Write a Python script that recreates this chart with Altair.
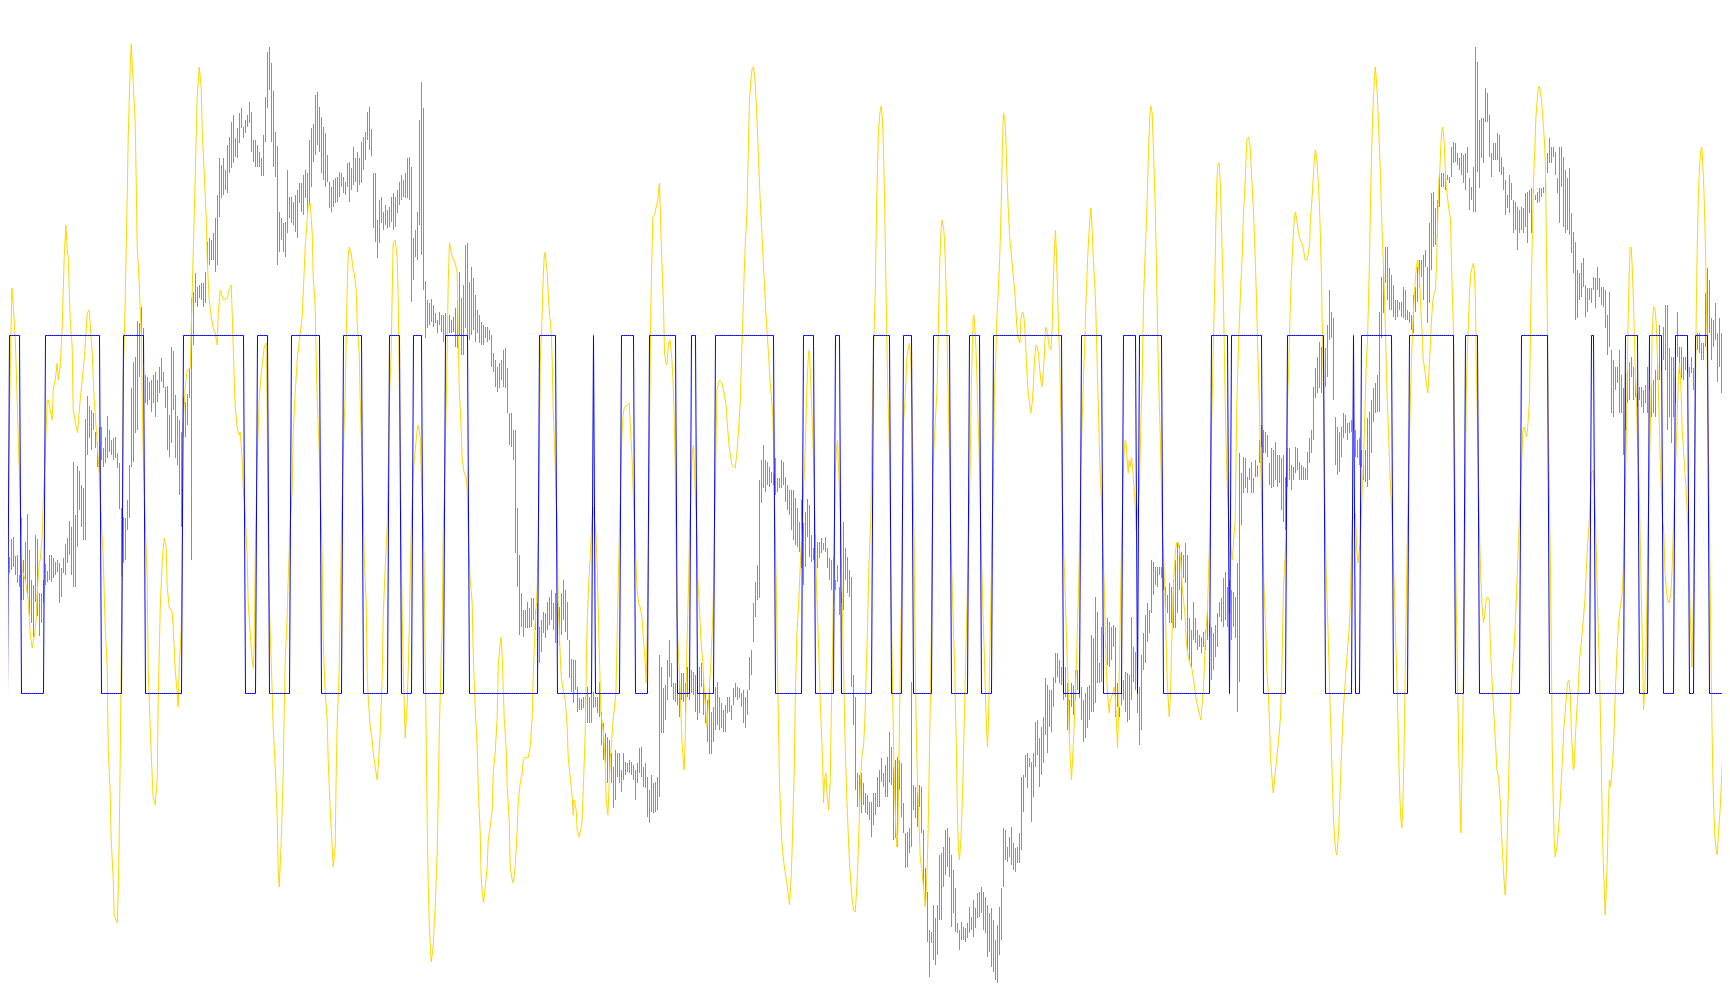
import altair as alt
import pandas as pd

# ---------------- data ----------------
# green price bars: high / low level of every bar (bar index 0..864)
green_high = [
447,428,448,444,443,461,463,444,445,425,482,440,458,486,450,420,415,465,461,407,
407,420,436,429,445,445,442,438,440,437,432,442,456,462,479,473,538,485,534,529,
515,512,581,604,594,590,587,568,558,573,573,552,563,584,570,560,562,563,547,537,
492,483,482,500,535,612,638,643,679,677,693,672,625,623,618,620,625,628,620,633,
642,628,613,614,585,653,649,605,584,580,568,603,598,606,632,702,708,727,713,715,
717,717,728,758,762,760,767,782,805,842,835,842,830,855,863,878,885,862,872,887,
892,873,880,885,898,888,860,860,855,848,842,865,903,948,953,937,909,868,854,788,
782,777,778,830,803,803,798,805,810,817,817,825,830,827,860,872,876,905,908,893,
883,873,867,845,818,813,820,822,823,828,827,823,818,837,838,832,853,842,848,842,
858,863,868,888,893,871,827,827,780,800,803,788,795,790,793,803,807,803,810,818,
825,820,827,842,843,833,762,770,788,880,918,892,719,700,697,701,695,687,680,688,
685,685,687,680,685,680,683,692,700,728,702,715,755,757,718,733,722,705,690,685,
678,675,673,673,670,665,647,640,633,637,640,650,652,632,587,587,570,570,492,445,
407,390,390,398,392,402,402,390,397,373,380,388,387,398,403,410,397,407,397,393,
407,420,410,398,360,341,340,340,313,302,301,303,303,313,303,308,308,303,303,318,
288,277,267,263,260,247,233,250,247,247,230,247,238,237,240,238,235,230,237,252,
253,233,237,223,210,225,217,218,223,345,333,312,315,340,360,337,317,317,330,320,
327,327,317,333,317,330,328,325,313,333,337,327,307,300,317,288,293,313,318,303,
297,290,295,303,303,295,312,317,313,312,307,310,303,310,343,350,397,418,435,520,
540,555,540,538,533,528,527,542,522,522,540,538,523,515,510,510,510,502,492,478,
500,477,488,501,495,465,452,465,458,458,462,457,463,452,442,440,443,420,435,413,
408,478,452,443,430,423,325,303,227,225,227,217,207,205,198,198,207,207,223,230,
242,227,235,243,268,253,233,240,243,240,237,197,167,168,172,318,215,213,207,215,
213,170,132,108,70,68,95,82,95,145,147,153,170,172,163,145,130,112,77,70,
78,73,72,77,93,83,100,92,107,108,113,108,103,95,87,92,80,60,75,93,
112,172,170,153,163,173,157,152,153,167,223,225,245,247,242,238,247,278,280,262,
273,283,322,315,310,310,323,347,347,340,333,310,333,317,300,317,315,330,330,318,
313,300,307,313,315,365,362,403,388,337,373,365,368,382,378,373,375,373,317,293,
317,320,328,327,325,383,353,348,315,313,345,367,385,397,390,440,438,433,433,433,
433,450,413,405,417,413,420,440,458,455,448,445,457,445,382,370,398,382,370,365,
363,368,370,390,377,373,367,375,387,398,402,422,428,413,420,410,408,403,437,547,
527,543,542,523,532,538,522,540,535,560,575,570,568,565,537,552,550,558,545,545,
542,545,523,552,552,535,533,553,552,538,535,533,532,548,562,570,613,632,643,658,
653,640,652,675,710,688,682,583,573,568,573,587,585,577,578,580,580,570,560,562,
550,540,550,582,588,600,612,617,625,688,723,733,753,753,732,725,715,700,700,698,
698,713,710,690,688,685,705,713,733,740,740,745,750,733,777,807,808,792,800,827,
827,827,827,825,823,853,858,857,847,842,847,845,847,853,822,813,833,953,938,880,
882,882,912,907,885,847,857,857,867,865,843,833,820,805,825,817,800,798,793,790,
793,792,807,808,810,812,812,805,808,812,812,813,820,847,862,853,853,848,822,853,
853,843,830,822,832,787,768,758,730,727,737,742,715,712,712,712,723,722,733,722,
713,713,710,685,708,650,640,633,633,650,625,612,627,630,638,643,633,630,607,613,
613,610,615,633,660,617,620,630,643,675,663,673,695,695,652,643,643,623,688,653,
653,643,643,640,633,643,632,657,667,667,657,657,707,732,720,682,680,697,667,682,
667,627,610,607,605]

green_low = [
422,410,404,425,427,430,433,425,417,413,400,400,420,403,385,377,363,398,384,364,
377,397,415,418,420,418,422,425,428,397,403,427,425,437,445,425,413,413,453,490,
473,460,460,545,562,550,570,552,533,527,540,533,537,542,548,545,540,542,532,491,
423,437,440,470,482,533,538,567,570,623,667,637,597,595,600,588,597,583,598,607,
618,612,592,550,543,557,590,542,535,505,473,563,563,575,602,440,655,697,693,702,
700,693,697,732,735,740,740,728,735,783,802,805,810,807,827,832,837,843,842,857,
872,862,867,873,877,848,838,833,833,833,824,824,858,892,910,858,833,823,735,748,
760,748,743,767,782,777,775,768,762,797,788,785,802,787,795,813,838,845,855,848,
827,820,813,818,792,788,793,797,798,803,813,807,805,813,798,810,815,818,808,815,
817,830,840,860,850,844,772,758,742,757,777,770,775,772,773,778,770,773,787,795,
800,803,802,802,800,698,720,743,740,775,745,710,662,672,675,678,673,677,667,675,
668,658,660,667,667,667,668,653,652,665,645,645,672,660,660,665,670,658,667,657,
655,655,662,658,660,633,628,613,608,612,620,613,612,587,555,553,540,447,413,365,
373,363,372,372,372,373,380,370,332,337,348,367,362,370,375,380,370,357,357,355,
365,380,368,360,322,308,297,310,288,290,290,292,277,277,277,277,292,293,287,283,
255,240,237,217,223,217,192,200,223,217,208,220,225,228,227,225,220,200,217,227,
223,213,212,183,177,188,187,188,190,203,267,267,280,300,323,313,300,298,295,283,
300,298,287,303,300,307,305,288,280,287,313,285,277,258,246,246,258,270,275,270,
272,268,268,287,288,280,295,303,300,302,293,277,272,285,310,325,358,383,400,402,
497,512,508,515,513,517,515,505,508,512,512,515,498,490,485,470,460,455,453,448,
432,415,433,463,443,438,440,450,432,442,447,450,448,432,420,410,397,410,418,385,
397,390,420,407,403,313,275,210,193,188,187,195,187,185,180,163,175,185,193,193,
218,213,203,203,217,215,160,162,153,210,183,167,132,133,147,153,190,182,173,193,
167,115,95,58,23,57,40,35,45,80,80,113,125,133,123,73,87,68,67,50,
60,60,58,62,67,70,63,72,82,83,87,70,67,43,48,33,28,20,17,45,
60,113,140,138,143,135,130,128,137,137,150,188,223,212,233,178,203,233,245,213,
225,237,265,247,273,268,293,317,323,317,315,300,303,270,267,293,285,300,310,302,
280,258,262,272,280,288,288,297,317,317,318,330,352,335,333,340,353,283,293,283,
295,300,288,278,280,300,318,310,287,255,270,330,337,358,367,387,405,415,413,425,
422,410,393,387,377,377,372,372,387,410,380,422,417,350,340,332,360,357,350,353,
347,353,350,360,363,320,330,343,353,383,378,373,380,373,387,360,373,362,288,318,
475,507,512,507,520,507,507,523,523,537,553,547,547,543,515,512,513,520,513,517,
490,478,470,513,520,510,520,527,530,520,520,520,520,520,537,547,560,602,607,612,
607,600,613,623,660,662,600,535,525,528,543,562,567,560,567,568,570,543,542,535,
533,520,518,513,520,547,578,587,588,588,662,687,717,700,690,690,683,680,683,690,
683,682,680,680,677,670,667,688,698,713,723,700,733,677,697,730,753,755,763,793,
813,813,810,820,817,823,837,838,835,830,825,817,810,827,790,800,788,788,828,812,
842,837,878,878,843,823,840,840,840,828,825,810,785,792,787,800,767,770,750,767,
770,767,773,757,787,767,807,800,797,798,803,807,807,827,837,837,843,825,807,777,
813,773,767,770,765,747,727,680,682,700,703,713,683,688,700,697,710,692,710,703,
695,693,672,645,653,587,583,610,617,587,587,545,570,597,600,623,600,603,593,600,
593,587,597,587,610,583,587,583,620,620,630,640,630,570,583,557,583,597,643,627,
622,620,630,627,623,627,610,647,650,647,640,640,653,647,667,640,653,660,618,633,
607,600,587,583,580]

# yellow oscillator: (bar position, level)
yellow_pts = [
(-0.65,158),(-0.15,188),(0.35,218),(0.85,247),(1.35,275),(1.85,350),(2.35,397),(3.35,480),(3.85,560),(4.35,630),
(5.2,712),(6.0,690),(6.85,663),(7.7,610),(8.5,553),(9.35,500),(10.35,430),(11.85,420),(13.35,400),(14.35,367),
(15.35,352),(16.35,363),(17.35,380),(17.85,407),(18.85,437),(19.35,440),(20.35,463),(20.85,497),(21.85,543),(22.85,600),
(23.35,600),(24.35,590),(25.35,580),(25.85,610),(26.85,620),(27.85,637),(28.35,620),(29.35,633),(30.35,673),(31.35,743),
(32.2,775),(32.85,750),(33.35,743),(34.35,680),(35.35,653),(35.85,590),(37.35,573),(38.0,567),(39.35,600),(40.85,630),
(41.85,653),(42.85,687),(43.85,690),(45.35,647),(46.35,600),(47.85,557),(48.85,527),(49.85,482),(50.85,443),(51.85,373),
(52.85,333),(53.35,253),(54.35,207),(54.85,160),(55.85,122),(56.35,85),(57.85,77),(58.35,107),(58.85,162),(59.35,240),
(59.85,337),(60.35,433),(60.85,623),(61.85,700),(62.85,803),(63.35,863),(64.35,933),(64.85,956),(65.85,917),(66.85,877),
(67.35,820),(67.85,753),(68.85,717),(69.85,667),(70.35,600),(70.85,547),(71.85,480),(72.85,420),(73.35,330),(74.35,273),
(75.35,223),(75.85,203),(76.85,195),(77.85,220),(78.35,300),(79.35,390),(80.35,440),(81.35,462),(82.35,453),(82.85,413),
(83.85,393),(85.35,387),(85.85,373),(86.85,330),(87.85,307),(88.35,293),(88.85,333),(89.85,370),(90.35,433),(90.85,577),
(91.85,613),(92.85,630),(94.35,631),(95.35,708),(96.85,823),(97.85,903),(98.85,933),(99.85,913),(100.35,870),(101.35,827),
(102.35,783),(102.85,740),(103.85,700),(104.85,683),(105.85,672),(106.85,667),(107.85,655),(108.35,687),(109.35,710),(110.85,700),
(112.85,702),(113.85,710),(114.85,715),(115.35,687),(116.35,623),(116.85,593),(117.85,572),(118.85,565),(119.35,568),(120.35,540),
(120.85,513),(121.85,487),(122.85,443),(123.35,397),(124.35,367),(125.35,340),(125.85,332),(126.35,353),(126.85,442),(127.85,540),
(128.85,600),(129.85,627),(130.85,643),(131.35,653),(132.35,657),(132.85,583),(133.35,457),(133.85,397),(134.85,340),(135.35,307),
(135.85,273),(136.85,233),(137.85,183),(138.35,130),(138.85,113),(139.85,157),(140.85,227),(141.35,287),(141.85,340),(142.85,383),
(143.35,420),(144.35,477),(145.35,510),(145.85,567),(146.85,607),(147.85,640),(148.35,650),(149.35,667),(150.35,683),(150.85,707),
(151.85,753),(152.85,780),(153.35,795),(154.35,797),(155.35,767),(155.85,723),(156.85,693),(157.35,640),(157.85,600),(158.85,550),
(159.35,517),(160.35,443),(160.85,360),(161.85,307),(162.85,280),(163.35,240),(164.35,190),(165.35,153),(165.85,133),(166.85,153),
(167.35,227),(167.85,277),(168.85,330),(169.35,390),(169.85,460),(170.85,543),(171.85,607),(172.85,713),(173.35,743),(173.85,753),
(174.85,747),(175.85,730),(176.35,727),(177.35,710),(177.85,677),(178.85,647),(179.35,600),(180.85,497),(181.35,445),(182.35,397),
(182.85,327),(183.35,303),(184.35,273),(185.35,260),(185.85,247),(186.85,233),(187.85,220),(188.35,233),(189.35,267),(190.35,323),
(190.85,383),(191.85,433),(192.85,473),(193.85,593),(194.85,650),(195.35,707),(195.85,757),(196.85,760),(197.85,743),(198.35,700),
(198.85,627),(199.85,460),(200.35,390),(200.85,333),(201.35,297),(201.85,262),(202.85,297),(203.35,330),(203.85,367),(204.35,420),
(204.85,470),(205.85,527),(206.85,550),(207.85,570),(208.35,575),(209.35,563),(209.85,527),(210.85,480),(211.35,433),(211.85,343),
(212.35,260),(212.85,180),(213.35,117),(213.85,77),(214.35,57),(214.85,38),(215.85,53),(216.35,77),(216.85,93),(217.85,147),
(218.35,200),(218.85,263),(219.85,343),(220.35,373),(220.85,467),(221.85,540),(222.85,650),(223.35,717),(224.0,757),(225.35,743),
(226.85,737),(227.85,727),(228.35,667),(228.85,613),(229.85,570),(230.35,540),(231.35,527),(232.35,523),(232.85,510),(233.35,467),
(234.35,420),(235.35,397),(235.85,347),(236.85,292),(237.85,252),(238.35,213),(239.35,167),(239.85,123),(240.35,107),(241.0,97),
(241.85,113),(242.85,133),(243.35,160),(244.35,173),(245.35,190),(245.85,227),(246.85,247),(247.85,283),(248.35,333),(249.35,357),
(249.85,363),(250.35,343),(251.35,283),(252.35,250),(252.85,213),(253.85,180),(254.35,133),(255.35,120),(255.85,117),(256.85,133),
(257.85,170),(258.35,197),(259.35,217),(260.35,227),(260.85,240),(261.85,243),(263.35,242),(264.35,253),(265.35,283),(265.85,323),
(266.85,377),(267.85,413),(268.35,457),(268.85,517),(269.35,637),(270.35,687),(270.85,722),(271.35,743),(271.85,748),(272.85,727),
(273.35,707),(273.85,690),(274.85,667),(275.35,640),(275.85,590),(276.85,537),(277.35,500),(277.85,483),(278.35,393),(279.85,323),
(280.85,310),(281.85,300),(282.85,273),(283.35,243),(284.35,223),(285.35,203),(285.85,185),(286.35,200),(287.35,190),(287.85,170),
(288.85,163),(290.2,177),(291.0,217),(291.85,267),(292.7,367),(293.5,413),(294.35,443),(295.2,480),(295.7,493),(297.2,467),
(297.7,443),(298.5,380),(299.0,340),(299.7,287),(301.0,267),(301.85,237),(302.35,200),(303.2,185),(304.35,240),(305.85,280),
(307.2,307),(308.0,380),(308.7,447),(309.35,497),(310.2,563),(310.7,583),(311.35,592),(312.7,595),(313.85,597),(314.7,563),
(315.35,540),(316.0,497),(316.85,463),(317.7,413),(318.5,397),(319.35,393),(320.2,383),(321.0,360),(321.85,337),(322.35,317),
(322.7,350),(323.2,413),(323.7,487),(324.0,567),(324.35,637),(324.7,697),(325.2,743),(325.7,783),(326.5,785),(327.35,793),
(328.2,800),(328.7,813),(329.0,817),(329.7,767),(330.35,730),(331.0,693),(331.5,647),(332.2,637),(332.7,635),(333.5,657),
(334.35,660),(335.2,640),(335.7,623),(336.35,583),(336.85,533),(337.7,383),(339.35,307),(340.2,260),(341.0,237),(341.35,230),
(341.85,260),(342.7,353),(343.5,413),(344.0,467),(344.7,507),(345.35,547),(346.0,555),(346.5,527),(347.0,500),(347.7,467),
(348.2,420),(349.0,390),(349.7,360),(350.7,337),(351.35,310),(352.2,287),(352.7,273),(354.7,337),(355.7,387),(356.35,447),
(357.0,520),(357.7,610),(359.0,620),(360.2,617),(361.35,607),(362.35,593),(363.0,573),(363.85,553),(365.2,535),(366.85,532),
(367.7,547),(368.5,570),(369.35,597),(370.2,653),(370.7,683),(371.35,727),(371.85,753),(372.7,787),(373.5,860),(374.0,900),
(374.7,920),(375.35,932),(376.0,933),(376.85,917),(377.7,883),(378.5,840),(379.35,800),(380.2,767),(381.0,733),(381.85,700),
(382.7,670),(383.5,647),(384.35,617),(385.2,597),(385.7,583),(386.0,550),(387.35,420),(388.0,333),(388.5,273),(389.0,217),
(389.7,180),(390.2,157),(391.0,140),(391.85,127),(392.7,117),(393.5,103),(394.0,95),(394.7,117),(395.2,143),(395.7,180),
(396.35,227),(396.85,297),(397.7,367),(398.5,393),(399.35,433),(401.0,507),(401.85,550),(402.7,613),(403.5,647),(404.0,650),
(404.7,613),(405.35,580),(406.0,540),(406.85,467),(407.7,400),(408.5,357),(409.35,300),(410.2,257),(410.7,227),(411.0,197),
(411.5,220),(412.2,227),(412.7,207),(413.5,190),(414.35,217),(414.85,283),(415.35,327),(416.0,417),(416.85,523),(417.35,547),
(418.0,560),(418.7,523),(419.7,467),(420.35,400),(421.0,333),(421.5,283),(422.0,243),(422.7,200),(423.35,167),(424.0,137),
(424.7,117),(425.35,100),(426.0,90),(426.85,88),(427.7,113),(428.35,147),(429.0,190),(429.7,227),(430.35,247),(431.0,253),
(431.7,280),(432.35,327),(433.0,373),(433.7,433),(434.7,483),(435.35,580),(436.0,650),(436.85,707),(437.7,810),(438.5,870),
(439.2,887),(439.85,894),(440.5,880),(441.0,850),(441.5,803),(442.0,743),(442.5,683),(443.0,623),(443.7,570),(444.2,520),
(444.7,413),(445.2,353),(445.7,293),(446.2,237),(446.7,200),(447.2,170),(447.7,153),(448.2,170),(448.7,240),(449.2,307),
(449.7,373),(450.2,433),(451.0,577),(451.85,603),(452.7,643),(453.5,653),(454.0,657),(454.7,637),(455.35,587),(456.35,450),
(456.85,343),(457.35,273),(458.0,220),(458.7,180),(459.35,143),(460.2,130),(461.0,113),(461.85,93),(462.35,107),(462.85,133),
(463.35,173),(463.85,230),(464.35,293),(464.85,360),(465.7,527),(466.35,557),(467.0,583),(467.7,607),(468.2,647),(468.7,700),
(469.2,740),(469.7,767),(470.2,780),(471.0,773),(471.5,760),(472.0,733),(472.5,693),(473.0,640),(473.5,590),(474.0,540),
(474.7,460),(475.35,417),(476.0,367),(476.7,327),(477.0,287),(477.5,247),(478.0,180),(478.5,150),(479.0,140),(479.7,160),
(480.2,187),(480.7,220),(481.2,263),(481.7,307),(482.2,350),(482.7,390),(483.2,433),(484.35,533),(484.85,607),(485.35,647),
(485.85,683),(486.2,685),(486.7,670),(487.2,653),(487.7,623),(488.2,583),(488.7,557),(489.7,467),(490.35,417),(491.0,370),
(491.5,340),(492.0,303),(492.5,273),(493.0,253),(493.5,280),(494.0,330),(494.7,400),(495.2,467),(496.0,527),(496.5,613),
(497.2,647),(497.7,683),(498.35,707),(499.0,737),(499.5,767),(500.0,807),(500.5,860),(501.0,887),(501.7,880),(502.2,860),
(502.7,827),(503.2,800),(503.7,777),(504.2,760),(504.7,750),(505.2,740),(505.7,727),(506.2,717),(506.7,707),(507.2,690),
(507.7,673),(508.2,663),(508.7,660),(509.2,657),(509.7,680),(510.2,687),(510.7,688),(511.2,683),(511.7,670),(512.2,650),
(512.7,627),(513.35,607),(514.0,597),(514.7,587),(515.5,600),(516.0,617),(516.5,640),(517.2,655),(517.85,653),(518.5,647),
(519.0,633),(519.5,623),(520.2,613),(520.85,627),(521.5,647),(522.0,673),(522.7,670),(523.2,663),(523.85,653),(524.7,650),
(525.35,673),(526.0,727),(526.5,753),(527.0,770),(527.5,743),(528.0,710),(528.5,670),(529.0,650),(529.5,603),(530.0,557),
(530.35,517),(530.7,483),(531.2,443),(531.7,417),(532.2,383),(532.7,347),(533.35,313),(533.85,270),(534.35,243),(535.0,220),
(535.5,240),(536.0,260),(536.5,283),(537.0,313),(537.5,340),(538.5,410),(539.0,453),(539.7,533),(540.35,580),(541.0,623),
(541.7,660),(542.2,697),(542.7,723),(543.2,747),(543.7,767),(544.2,780),(544.7,792),(545.2,777),(545.7,750),(546.2,730),
(546.7,713),(547.2,687),(547.7,647),(548.2,610),(548.7,570),(549.2,533),(549.7,510),(550.35,483),(550.85,443),(551.35,417),
(551.85,373),(552.35,333),(552.85,313),(553.35,297),(553.85,287),(554.35,300),(555.7,307),(556.35,313),(557.0,300),(557.7,267),
(558.0,252),(558.5,283),(559.0,340),(559.5,400),(560.0,453),(560.85,523),(561.35,550),(561.85,560),(562.35,557),(562.85,540),
(563.35,527),(563.85,540),(564.35,533),(565.0,543),(565.5,533),(566.0,520),(566.7,500),(567.35,470),(569.0,513),(569.7,580),
(570.35,620),(571.0,700),(571.85,747),(572.7,790),(573.5,850),(574.2,885),(574.7,894),(575.35,887),(575.85,857),(576.35,827),
(576.85,793),(577.35,747),(577.85,693),(578.35,640),(578.85,600),(579.35,567),(579.85,523),(580.35,473),(581.0,447),(581.7,407),
(582.35,357),(582.85,320),(583.35,300),(583.85,283),(584.5,307),(585.0,350),(585.5,380),(586.0,417),(586.5,433),(587.0,450),
(587.7,458),(588.35,457),(589.0,450),(589.7,437),(590.35,413),(591.0,400),(591.7,387),(592.35,360),(593.0,347),(593.7,340),
(595.35,330),(597.35,300),(599.7,280),(601.0,313),(602.0,363),(603.0,390),(603.7,440),(604.35,473),(605.0,567),(605.7,633),
(606.2,680),(606.7,723),(607.2,780),(607.7,820),(608.2,835),(608.85,837),(609.35,820),(609.85,787),(610.35,747),(610.85,713),
(611.35,657),(611.85,600),(612.35,550),(612.85,513),(613.85,470),(615.35,440),(616.85,480),(617.7,600),(618.7,667),(619.7,717),
(620.35,743),(621.0,787),(621.85,820),(622.7,860),(623.5,863),(624.35,853),(625.0,827),(625.7,800),(626.35,770),(627.0,733),
(627.5,700),(628.0,660),(628.5,627),(629.0,590),(629.5,540),(630.2,490),(630.7,453),(631.2,417),(631.7,390),(632.2,367),
(632.7,330),(633.5,303),(634.0,277),(634.5,243),(635.2,223),(635.85,207),(636.7,223),(637.5,240),(638.2,253),(638.85,267),
(639.5,283),(640.2,333),(641.0,413),(641.7,440),(642.35,463),(643.0,597),(643.7,640),(644.2,680),(644.85,720),(645.5,750),
(646.0,770),(646.5,783),(647.0,788),(647.7,780),(648.5,767),(649.35,760),(650.2,757),(651.0,750),(651.85,740),(652.7,740),
(653.5,747),(654.2,760),(654.35,777),(655.2,800),(656.0,827),(656.5,843),(657.0,850),(657.7,840),(658.5,813),(659.0,793),
(659.5,760),(660.0,723),(660.35,677),(660.7,640),(661.0,607),(661.35,543),(661.85,480),(662.35,427),(663.0,387),(663.5,353),
(664.0,317),(664.5,280),(665.0,247),(665.5,213),(666.0,183),(666.5,163),(667.0,150),(667.7,145),(668.5,167),(669.0,193),
(669.5,220),(670.0,247),(670.5,273),(671.0,293),(671.7,313),(672.35,333),(673.0,350),(673.7,367),(674.35,393),(674.85,440),
(675.35,480),(677.0,487),(677.7,447),(678.2,437),(678.7,447),(679.35,457),(680.35,507),(681.0,540),(681.7,587),(682.35,633),
(683.0,660),(683.5,700),(684.0,740),(684.35,780),(684.7,820),(685.2,857),(685.7,890),(686.35,917),(686.85,933),(687.35,923),
(687.85,907),(688.35,883),(688.85,857),(689.35,833),(689.85,797),(690.35,767),(691.0,733),(691.7,690),(692.2,650),(692.7,610),
(693.35,577),(693.85,547),(694.35,520),(695.0,493),(695.7,453),(696.35,417),(697.0,367),(697.7,323),(698.2,280),(698.7,237),
(699.2,203),(699.7,180),(700.2,172),(700.7,197),(701.2,240),(701.7,303),(702.2,373),(702.7,440),(703.2,493),(704.0,560),
(704.5,607),(705.0,640),(705.5,667),(706.0,690),(706.5,707),(707.0,723),(707.7,737),(708.2,740),(708.85,727),(709.35,707),
(709.85,683),(710.35,667),(710.85,640),(711.5,633),(712.2,620),(712.7,613),(713.2,607),(713.7,627),(714.35,653),(715.0,680),
(715.7,700),(716.35,707),(717.0,710),(717.7,747),(718.2,787),(718.7,820),(719.2,830),(719.7,857),(720.2,870),(720.7,873),
(721.35,857),(721.85,833),(722.35,813),(723.0,803),(723.5,793),(724.0,787),(724.5,780),(725.0,737),(725.5,700),(726.0,667),
(727.35,400),(728.7,240),(729.7,167),(730.7,283),(731.35,400),(731.85,480),(732.35,607),(733.0,653),(733.5,680),(734.0,707),
(734.7,727),(735.35,733),(736.0,737),(736.5,727),(737.0,697),(737.35,643),(739.0,467),(739.7,420),(740.35,393),(741.0,377),
(741.7,387),(742.35,400),(743.0,403),(743.85,400),(744.35,360),(745.0,330),(745.7,303),(746.35,280),(747.0,257),(747.7,230),
(748.5,223),(749.35,200),(750.0,167),(750.7,140),(751.35,117),(751.85,105),(752.35,127),(752.85,163),(753.35,200),(753.85,243),
(754.35,287),(754.85,313),(755.5,333),(756.2,350),(756.85,373),(757.7,417),(758.35,450),(759.0,487),(760.0,533),(760.7,570),
(761.35,573),(762.0,567),(762.7,563),(763.35,580),(764.0,600),(764.7,700),(765.35,757),(766.0,817),(766.7,853),(767.2,883),
(767.85,900),(768.35,912),(768.85,914),(769.5,907),(770.0,900),(770.5,887),(771.0,873),(771.5,857),(772.0,833),(772.5,747),
(773.0,667),(773.5,567),(774.0,493),(774.5,430),(775.0,333),(775.35,253),(775.85,200),(776.35,160),(776.85,143),(777.7,153),
(778.5,170),(779.2,193),(779.85,217),(780.5,243),(781.2,273),(781.85,287),(782.35,300),(783.0,317),(783.7,320),(784.35,307),
(784.85,273),(785.35,253),(785.85,230),(786.35,233),(787.0,267),(787.7,290),(788.35,310),(789.0,340),(789.7,353),(790.35,367),
(791.0,383),(791.7,400),(792.35,427),(793.0,453),(793.7,473),(794.35,500),(795.0,527),(795.7,530),(796.35,517),(797.0,480),
(797.7,423),(798.35,373),(799.0,327),(799.5,280),(800.0,227),(800.35,180),(800.85,140),(801.35,113),(801.85,85),(802.5,117),
(803.0,147),(803.5,200),(804.0,220),(804.5,213),(805.0,223),(805.5,237),(806.0,253),(806.5,283),(807.0,313),(807.7,347),
(808.5,377),(809.35,393),(810.2,403),(811.0,433),(811.7,493),(812.35,557),(812.85,627),(813.35,683),(813.85,727),(814.35,752),
(814.85,753),(815.35,733),(815.85,707),(816.35,670),(816.85,633),(817.35,607),(817.85,567),(818.35,543),(819.0,497),(819.5,447),
(820.0,393),(820.5,350),(821.0,290),(821.7,313),(822.2,343),(822.7,400),(823.2,467),(824.0,533),(824.7,600),(825.35,667),
(826.0,693),(826.7,692),(827.35,677),(827.85,650),(828.35,617),(828.85,580),(829.35,540),(830.5,480),(831.2,467),(831.7,430),
(832.35,413),(833.0,400),(833.85,397),(834.7,407),(835.35,433),(836.0,477),(837.7,573),(838.35,617),(839.0,637),(839.7,613),
(840.35,570),(841.0,550),(841.7,527),(842.35,510),(843.0,480),(843.85,433),(844.35,387),(844.85,357),(845.2,333),(845.7,373),
(846.2,430),(846.85,567),(847.35,683),(847.85,750),(848.35,800),(849.0,833),(849.7,850),(850.2,853),(850.7,833),(851.2,810),
(851.7,777),(852.2,727),(852.7,667),(853.2,593),(854.2,437),(854.7,353),(855.2,280),(855.7,223),(856.2,187),(856.7,163),
(857.35,150),(857.85,145),(858.5,167),(859.2,187),(859.85,213),(860.5,240),(861.0,270),(861.5,353),(862.0,403),(862.5,433),
(863.0,467),(863.7,493)]

# blue state line: runs of bars where it sits on its upper level
blue_up_runs = [
(4,9),(22,49),(61,71),(91,121),(128,133),(145,159),(171,180),(194,199),(206,210),(222,233),
(269,277),(296,296),(310,316),(324,337),(345,347),(357,386),(401,406),(417,419),(436,444),(451,455),
(466,474),(484,489),(496,530),(540,550),(561,567),(569,580),(605,613),(615,630),(643,661),(676,676),
(680,695),(704,726),(732,738),(760,773),(795,796),(812,818),(824,830),(837,843),(847,853),(864,864)]

# ---------------- tables ----------------
n = min(len(green_high), len(green_low))
bars = pd.DataFrame({"bar": list(range(n)), "high": green_high[:n], "low": green_low[:n]})

n_bars = 865
state = [0] * n_bars
for a, b in blue_up_runs:
    for k in range(a, b + 1):
        if 0 <= k < n_bars:
            state[k] = 1
blue_df = pd.DataFrame({"bar": list(range(n_bars)), "state": state})

yel_df = pd.DataFrame(yellow_pts, columns=["bar", "osc"])

# ---------------- scales ----------------
W, H = 1714, 980
x_scale = alt.Scale(domain=[3.25, 860.25], nice=False, zero=False)
y_scale = alt.Scale(domain=[12, 992], nice=False, zero=False)
b_scale = alt.Scale(domain=[-0.82263, 1.91480], nice=False, zero=False)

green = alt.Chart(bars).mark_rule(color="#22dd22", strokeWidth=1, clip=True).encode(
    x=alt.X("bar:Q", scale=x_scale, axis=None),
    y=alt.Y("high:Q", scale=y_scale, axis=None),
    y2="low:Q",
)

yellow = alt.Chart(yel_df).mark_line(color="#ffd700", strokeWidth=1, clip=True, interpolate="linear").encode(
    x=alt.X("bar:Q", scale=x_scale, axis=None),
    y=alt.Y("osc:Q", scale=y_scale, axis=None),
)

blue = alt.Chart(blue_df).mark_line(color="#0000ff", strokeWidth=1, clip=True, interpolate="linear").encode(
    x=alt.X("bar:Q", scale=x_scale, axis=None),
    y=alt.Y("state:Q", scale=b_scale, axis=None),
)

chart = (
    alt.layer(green, yellow, blue)
    .resolve_scale(y="independent")
    .properties(width=W, height=H, padding=0, background="white",
                autosize=alt.AutoSizeParams(type="none"))
    .configure_view(stroke=None)
)

chart.save("out.html", embed_options={"renderer": "svg", "actions": False})
